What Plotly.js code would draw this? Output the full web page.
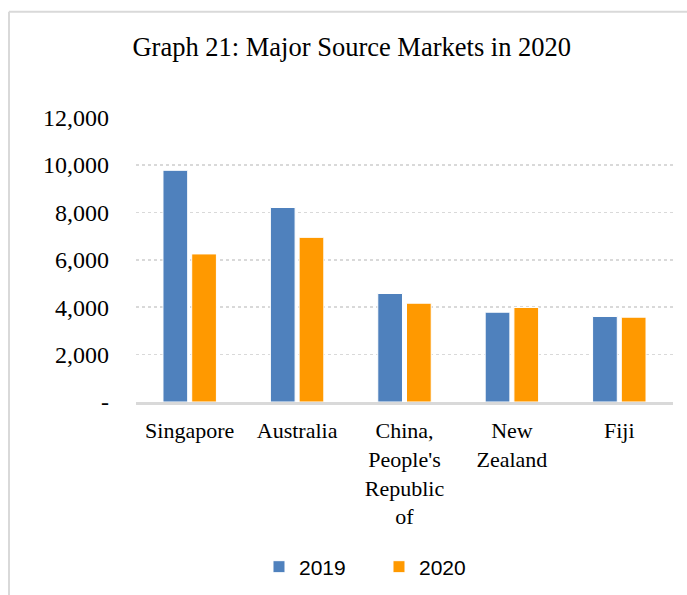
<!DOCTYPE html>
<html>
<head>
<meta charset="utf-8">
<script src="https://cdn.plot.ly/plotly-3.0.1.min.js"></script>
<style>html,body{margin:0;padding:0;background:#fff;}#chart{width:687px;height:595px;}</style>
</head>
<body>
<div id="chart"></div>
<script>
var categories = ["Singapore", "Australia", "China,<br>People's<br>Republic<br>of", "New<br>Zealand", "Fiji"];
var values2019 = [9780, 8210, 4580, 3790, 3610];
var values2020 = [6250, 6950, 4170, 3990, 3580];
var tickValues = [0, 2000, 4000, 6000, 8000, 10000, 12000];
var tickLabels = ["-", "2,000", "4,000", "6,000", "8,000", "10,000", "12,000"];

var serif = "'Liberation Serif', 'Times New Roman', serif";
var sans = "'Liberation Sans', Arial, sans-serif";

var traces = [
  {type: 'bar', name: '2019', x: categories, y: values2019,
   marker: {color: '#4F81BD', line: {color: '#ffffff', width: 1}}},
  {type: 'bar', name: '2020', x: categories, y: values2020,
   marker: {color: '#FF9900', line: {color: '#ffffff', width: 1}}}
];

var layout = {
  width: 687, height: 595,
  margin: {l: 136, r: 14, t: 117, b: 193},
  paper_bgcolor: '#ffffff', plot_bgcolor: '#ffffff',
  title: {text: 'Graph 21: Major Source Markets in 2020', font: {family: serif, size: 26.5, color: '#000'},
          x: 0.512, xanchor: 'center', y: 0.921, yanchor: 'middle'},
  barmode: 'group', bargap: 0.465, bargroupgap: 0.14,
  xaxis: {showline: true, linecolor: '#d9d9d9', linewidth: 3, ticks: '', showgrid: false,
          tickfont: {family: serif, size: 22, color: '#000'}, ticklabelstandoff: 7, fixedrange: true},
  yaxis: {range: [0, 12030], tickvals: tickValues, ticktext: tickLabels, showline: false,
          showgrid: true, gridcolor: '#d9d9d9', gridwidth: 1.5, griddash: 'dot', zeroline: false,
          tickfont: {family: serif, size: 24, color: '#000'}, ticklabelstandoff: 26},
  showlegend: true,
  legend: {orientation: 'h', xref: 'container', x: 0.377, xanchor: 'left',
           yref: 'container', y: 0.047, yanchor: 'middle',
           font: {family: sans, size: 21, color: '#000'}, entrywidth: 75, entrywidthmode: 'pixels',
           itemclick: false},
  shapes: [
    {type: 'line', xref: 'paper', yref: 'paper', x0: -0.2365, x1: 1.1, y0: 1.3697, y1: 1.3697,
     line: {color: '#d9d9d9', width: 2}},
    {type: 'line', xref: 'paper', yref: 'paper', x0: -0.2365, x1: -0.2365, y0: 1.3697, y1: -0.75,
     line: {color: '#d9d9d9', width: 2}}
  ]
};

Plotly.newPlot('chart', traces, layout, {displayModeBar: false, staticPlot: true});
</script>
</body>
</html>
